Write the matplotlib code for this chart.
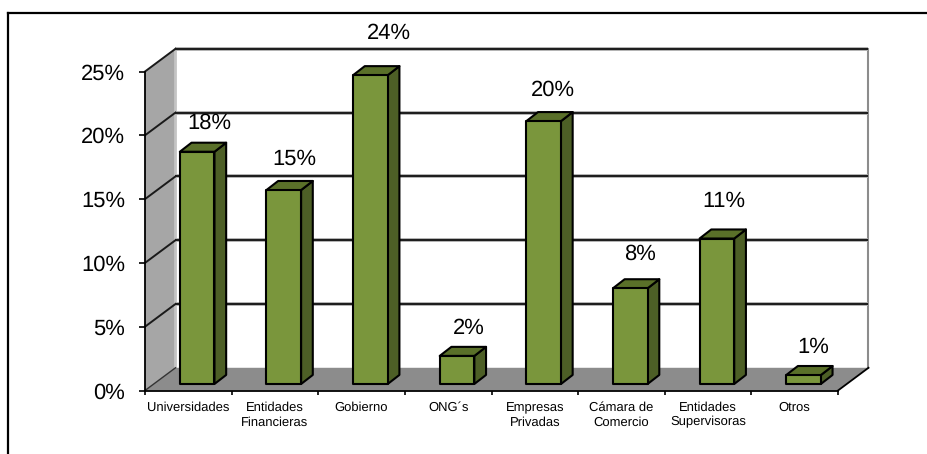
import matplotlib
matplotlib.use("Agg")
import matplotlib.pyplot as plt
from matplotlib.lines import Line2D
from matplotlib.patches import Polygon

plt.rcParams['font.family'] = ['Liberation Sans', 'DejaVu Sans']
plt.rcParams['text.hinting'] = 'no_hinting'
plt.rcParams['text.hinting_factor'] = 1

# Datos
categorias = ["Universidades", "Entidades\nFinancieras", "Gobierno", "ONG´s", "Empresas\nPrivadas",
              "Cámara de\nComercio", "Entidades\nSupervisoras", "Otros"]
valores = [18.2, 15.2, 24.2, 2.2, 20.6, 7.5, 11.4, 0.7]
etiquetas = ["18%", "15%", "24%", "2%", "20%", "8%", "11%", "1%"]
ticks_y = [0, 5, 10, 15, 20, 25]

# Ajuste a mano de cada etiqueta sobre la barra (pixeles)
desplaz_etiqueta = [9, 12, 23, 8, 12, 15, 18, 9]
desplaz_x = [1, -1, 6.5, 0, -2, -2, -5, -2]

# Profundidad del efecto 3D en unidades de los ejes
prof_x = 0.352
prof_y = 1.78
barra_x = 0.102
barra_y = 0.51
ancho = 0.4
barra_px = 0.135
barra_py = 0.71

fig = plt.figure(figsize=(9.27, 4.54), dpi=100)
ax = fig.add_axes([145 / 927, 1 - 390.5 / 454, 693 / 927, 319 / 454])
ax.set_xlim(0, 8)
ax.set_ylim(0, 25)
ax.patch.set_visible(False)
for lado in ["top", "right"]:
    ax.spines[lado].set_visible(False)
for lado in ["left", "bottom"]:
    ax.spines[lado].set_linewidth(1.3)
    ax.spines[lado].set_zorder(8)

# Paredes y piso
ax.add_patch(Polygon([(0, 0), (prof_x, prof_y), (prof_x, 25 + prof_y), (0, 25)],
                     fc="#a6a6a6", ec="none", clip_on=False, zorder=1))
ax.add_patch(Polygon([(0, 0), (8, 0), (8 + prof_x, prof_y), (prof_x, prof_y)],
                     fc="#8c8c8c", ec="none", clip_on=False, zorder=3))
ax.plot([8, 8 + prof_x], [0, prof_y], color="black", lw=1.3, clip_on=False, zorder=4)
ax.plot([prof_x, prof_x], [prof_y, 25 + prof_y], color="#c4c4c4", lw=2, clip_on=False, zorder=2)
ax.plot([8 + prof_x, 8 + prof_x], [prof_y, 25 + prof_y], color="#8c8c8c", lw=1.5, clip_on=False, zorder=2)

# Lineas de division
for t in ticks_y[1:]:
    ax.plot([prof_x, 8 + prof_x], [t + prof_y, t + prof_y], color="#b0b0b0", lw=2.8,
            clip_on=False, zorder=2, solid_capstyle="butt")
    ax.plot([prof_x, 8 + prof_x], [t + prof_y, t + prof_y], color="#1a1a1a", lw=1.4,
            clip_on=False, zorder=2.5, solid_capstyle="butt")
    ax.plot([0, prof_x], [t, t + prof_y], color="#1a1a1a", lw=1.4, clip_on=False, zorder=2.5)
ax.plot([0, prof_x], [0, prof_y], color="#333333", lw=1, clip_on=False, zorder=3.5)

# Barras
for i, v in enumerate(valores):
    x0 = i + 0.5 - ancho / 2 + barra_x
    x1 = x0 + ancho
    y0 = barra_y
    y1 = barra_y + v
    ax.add_patch(Polygon([(x0, y0), (x1, y0), (x1, y1), (x0, y1)], fc="#7a963c", ec="black",
                         lw=1.5, joinstyle="round", clip_on=False, zorder=6))
    ax.add_patch(Polygon([(x1, y0), (x1 + barra_px, y0 + barra_py), (x1 + barra_px, y1 + barra_py), (x1, y1)],
                         fc="#4d5f26", ec="black", lw=1.5, joinstyle="round", clip_on=False, zorder=5))
    ax.add_patch(Polygon([(x0, y1), (x1, y1), (x1 + barra_px, y1 + barra_py), (x0 + barra_px, y1 + barra_py)],
                         fc="#5a7029", ec="black", lw=1.5, joinstyle="round", clip_on=False, zorder=5))
    ax.annotate(etiquetas[i], (i + 0.5 + barra_x + barra_px, y1 + barra_py),
                xytext=(desplaz_x[i] * 0.72, desplaz_etiqueta[i] * 0.72),
                textcoords="offset points", ha="center", va="bottom", fontsize=15.5, color="black",
                annotation_clip=False, zorder=9)

# Ejes
ax.set_yticks(ticks_y)
ax.set_yticklabels([str(t) + "%" for t in ticks_y], fontsize=15.5)
ax.tick_params(axis="y", length=4.3, width=1.2, pad=10)
ax.set_xticks(range(9))
ax.set_xticklabels([])
ax.tick_params(axis="x", which="major", length=3, width=1.2)
ax.set_xticks([i + 0.5 for i in range(8)], minor=True)
ax.set_xticklabels(categorias, minor=True, fontsize=9.5, linespacing=1.27)
ax.tick_params(axis="x", which="minor", length=0, pad=8)

# Marco del recuadro
fig.add_artist(Line2D([8 / 927, 8 / 927], [0, 1 - 13 / 454], color="black", lw=1.6))
fig.add_artist(Line2D([8 / 927, 1], [1 - 13 / 454, 1 - 13 / 454], color="black", lw=1.6))

fig.savefig("out.png", dpi=100)
